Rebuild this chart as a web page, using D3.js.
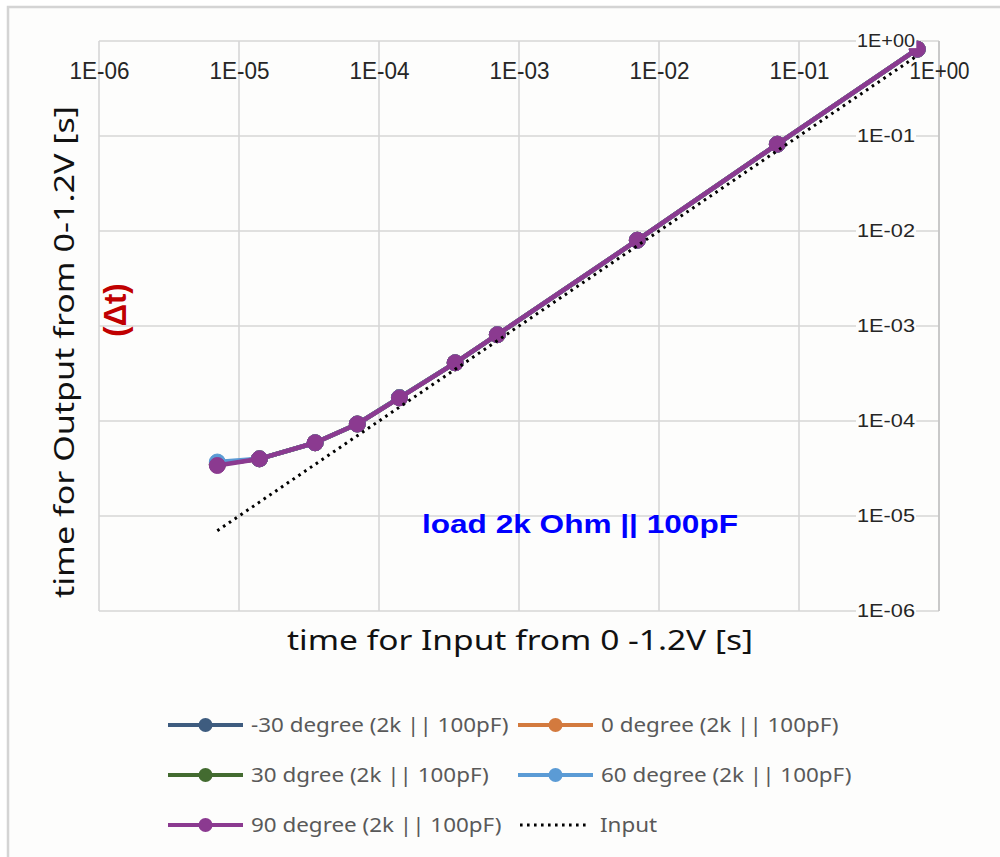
<!DOCTYPE html>
<html>
<head>
<meta charset="utf-8">
<script src="https://cdn.jsdelivr.net/npm/d3@7"></script>
<style>
  html, body { margin: 0; padding: 0; background: #ffffff; }
  svg { display: block; }
</style>
</head>
<body>
<svg id="chart" width="1000" height="857"></svg>
<script>
// ---------------- DATA ----------------
const inputTimes = [7e-6, 1.4e-5, 3.5e-5, 7e-5, 1.4e-4, 3.5e-4, 7e-4, 7e-3, 7e-2, 0.7];
const seriesNames = [
  "-30 degree (2k || 100pF)",
  "0 degree (2k || 100pF)",
  "30 dgree (2k || 100pF)",
  "60 degree (2k || 100pF)",
  "90 degree (2k || 100pF)"
];
const outM30 = [3.5e-5, 4.0e-5, 5.9e-5, 9.3e-5, 1.76e-4, 4.1e-4, 8.1e-4, 8.0e-3, 8.2e-2, 0.82];
const out0   = [3.5e-5, 4.0e-5, 5.9e-5, 9.3e-5, 1.76e-4, 4.1e-4, 8.1e-4, 8.0e-3, 8.2e-2, 0.82];
const out30  = [3.5e-5, 4.0e-5, 5.9e-5, 9.3e-5, 1.76e-4, 4.1e-4, 8.1e-4, 8.0e-3, 8.2e-2, 0.82];
const out60  = [3.7e-5, 4.0e-5, 5.9e-5, 9.3e-5, 1.76e-4, 4.1e-4, 8.1e-4, 8.0e-3, 8.2e-2, 0.82];
const out90  = [3.4e-5, 4.0e-5, 5.9e-5, 9.3e-5, 1.75e-4, 4.1e-4, 8.1e-4, 8.0e-3, 8.2e-2, 0.82];
const inputLine = [7e-6, 1.4e-5, 3.5e-5, 7e-5, 1.4e-4, 3.5e-4, 7e-4, 7e-3, 7e-2, 0.7];
const inputName = "Input";
const tickValues = [1e-6, 1e-5, 1e-4, 1e-3, 1e-2, 1e-1, 1];
const tickLabels = ["1E-06", "1E-05", "1E-04", "1E-03", "1E-02", "1E-01", "1E+00"];
const xTitle = "time for Input from 0 -1.2V [s]";
const yTitle = "time for Output from 0-1.2V [s]";
const yTitle2 = "(Δt)";
const annotation = "load 2k Ohm || 100pF";

// ---------------- STYLE ----------------
const colors = ["#3e5c7f", "#d37a3e", "#436b30", "#5b9bd5", "#8b3a90"];
const outputs = [outM30, out0, out30, out60, out90];

const svg = d3.select("#chart");
const W = 1000, H = 857;
const pLeft = 99, pRight = 939, pTop = 41, pBottom = 611;

svg.append("rect").attr("x", 0).attr("y", 0).attr("width", W).attr("height", H).attr("fill", "#ffffff");
svg.append("rect").attr("x", 8).attr("y", 7).attr("width", 1010).attr("height", 900)
  .attr("fill", "#fdfdfc").attr("stroke", "#d4d4d4").attr("stroke-width", 2.5);

const x = d3.scaleLog().domain([1e-6, 1]).range([pLeft, pRight]);
const y = d3.scaleLog().domain([1e-6, 1]).range([pBottom, pTop]);

// grid
const grid = svg.append("g");
grid.selectAll("line.v").data(tickValues).join("line").attr("class", "v")
  .attr("x1", d => x(d)).attr("x2", d => x(d)).attr("y1", pTop).attr("y2", pBottom)
  .attr("stroke", "#d6d6d6").attr("stroke-width", 1.6);
grid.selectAll("line.h").data(tickValues).join("line").attr("class", "h")
  .attr("x1", pLeft).attr("x2", pRight).attr("y1", d => y(d)).attr("y2", d => y(d))
  .attr("stroke", "#d6d6d6").attr("stroke-width", 1.6);
svg.append("line").attr("x1", pRight).attr("x2", pRight).attr("y1", pTop).attr("y2", pBottom)
  .attr("stroke", "#c4c4c4").attr("stroke-width", 1.6);

// X axis labels (top)
const xAxis = d3.axisBottom(x).tickValues(tickValues)
  .tickFormat((d, i) => tickLabels[i]).tickSize(0).tickPadding(0);
const gx = svg.append("g").attr("transform", `translate(0,${63})`).call(xAxis);
gx.select(".domain").remove();
gx.selectAll("text")
  .attr("font-family", "'Liberation Sans Narrow', 'Liberation Sans', Arial, sans-serif")
  .attr("font-size", 23).attr("fill", "#262626")
  .attr("textLength", 60).attr("lengthAdjust", "spacingAndGlyphs");

// data lines
const line = d3.line().x(d => x(d[0])).y(d => y(d[1]));
const inputPts = inputTimes.map((t, i) => [t, inputLine[i]]);

outputs.forEach((vals, s) => {
  const pts = inputTimes.map((t, i) => [t, vals[i]]);
  const g = svg.append("g");
  g.append("path").datum(pts).attr("d", line).attr("fill", "none")
    .attr("stroke", colors[s]).attr("stroke-width", 4.5).attr("stroke-linejoin", "round");
  g.selectAll("circle").data(pts).join("circle")
    .attr("cx", d => x(d[0])).attr("cy", d => y(d[1])).attr("r", 8)
    .attr("fill", colors[s]).attr("stroke", colors[s]).attr("stroke-width", 1);
});

svg.append("path").datum(inputPts).attr("d", line).attr("fill", "none")
  .attr("stroke", "#000000").attr("stroke-width", 3)
  .attr("stroke-dasharray", "2.6 4.4");

// Y axis labels (right)
const yAxis = d3.axisLeft(y).tickValues(tickValues)
  .tickFormat((d, i) => tickLabels[i]).tickSize(0).tickPadding(0);
const gy = svg.append("g").attr("transform", `translate(${915},0)`).call(yAxis);
gy.select(".domain").remove();
gy.selectAll(".tick").each(function() {
  const t = d3.select(this).select("text")
    .attr("font-family", "'Liberation Sans', Arial, sans-serif")
    .attr("font-size", 17.5).attr("fill", "#262626")
    .attr("textLength", 58).attr("lengthAdjust", "spacingAndGlyphs");
  const bb = t.node().getBBox();
  d3.select(this).insert("rect", "text")
    .attr("x", bb.x - 1).attr("y", bb.y + 3).attr("width", bb.width + 2).attr("height", bb.height - 6)
    .attr("fill", "#fdfdfc");
});

// axis titles
svg.append("text").attr("x", 520).attr("y", 650).attr("text-anchor", "middle")
  .attr("font-family", "'Noto Sans', 'Open Sans', sans-serif").attr("font-size", 28)
  .attr("fill", "#111111").attr("textLength", 466).attr("lengthAdjust", "spacingAndGlyphs")
  .text(xTitle);
svg.append("text").attr("transform", "translate(74,352) rotate(-90)").attr("text-anchor", "middle")
  .attr("font-family", "'Noto Sans', 'Open Sans', sans-serif").attr("font-size", 28)
  .attr("fill", "#111111").attr("textLength", 492).attr("lengthAdjust", "spacingAndGlyphs")
  .text(yTitle);
svg.append("text").attr("transform", "translate(126,310) rotate(-90)").attr("text-anchor", "middle")
  .attr("font-family", "'Liberation Sans', Arial, sans-serif").attr("font-weight", "bold").attr("font-size", 31)
  .attr("fill", "#c00000")
  .text(yTitle2);

// annotation
svg.append("text").attr("x", 422).attr("y", 533)
  .attr("font-family", "'Liberation Sans', Arial, sans-serif").attr("font-weight", "bold").attr("font-size", 26)
  .attr("fill", "#0000ff").attr("textLength", 316).attr("lengthAdjust", "spacingAndGlyphs")
  .text(annotation);

// legend
const legendItems = seriesNames.map((n, i) => ({ name: n, color: colors[i], dotted: false }))
  .concat([{ name: inputName, color: "#000000", dotted: true }]);
const lg = svg.append("g");
legendItems.forEach((it, i) => {
  const col = i % 2, row = Math.floor(i / 2);
  const lx = col === 0 ? 168 : 518;
  const ly = 725 + row * 50;
  const g = lg.append("g").attr("transform", `translate(${lx},${ly})`);
  if (it.dotted) {
    g.append("line").attr("x1", 2).attr("x2", 68).attr("y1", 0).attr("y2", 0)
      .attr("stroke", "#000").attr("stroke-width", 3).attr("stroke-dasharray", "2.6 4.4");
  } else {
    g.append("line").attr("x1", 0).attr("x2", 75).attr("y1", 0).attr("y2", 0)
      .attr("stroke", it.color).attr("stroke-width", 4);
    g.append("circle").attr("cx", 37.5).attr("cy", 0).attr("r", 7).attr("fill", it.color);
  }
  const t = g.append("text").attr("x", it.dotted ? 82 : 83).attr("y", 0).attr("dy", "0.35em")
    .attr("font-family", "'Noto Sans', sans-serif").attr("font-size", 20).attr("fill", "#595959")
    .text(it.name);
  const len = t.node().getComputedTextLength();
  t.attr("textLength", len * 1.12).attr("lengthAdjust", "spacingAndGlyphs");
});
</script>
</body>
</html>
